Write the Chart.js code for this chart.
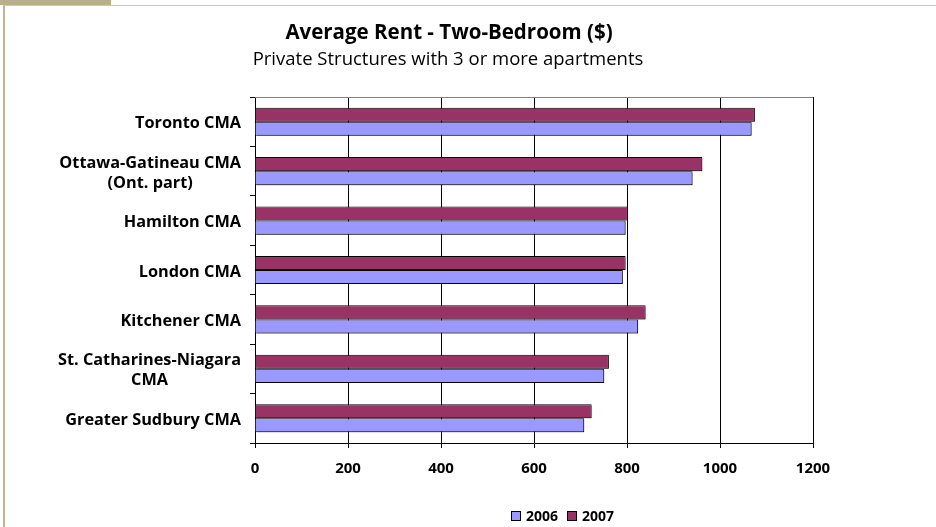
<!DOCTYPE html>
<html>
<head>
<meta charset="utf-8">
<script src="https://cdn.jsdelivr.net/npm/chart.js@4/dist/chart.umd.min.js"></script>
<style>
  body { margin: 0; background: #fff; }
  #wrap { position: relative; width: 936px; height: 527px; overflow: hidden; }
  #tab { position: absolute; left: 0; top: 0; width: 111px; height: 5px; background: #b8b089; }
  #frame { position: absolute; left: 3px; top: 5px; right: 0; bottom: 0; border-left: 2px solid #bdb692; border-top: 1px solid #cfc9ad; }
  canvas { position: absolute; left: 0; top: 0; }
</style>
</head>
<body>
<div id="wrap">
  <div id="tab"></div>
  <div id="frame"></div>
  <canvas id="chart" width="936" height="527"></canvas>
</div>
<script>
const chartTitle = "Average Rent - Two-Bedroom ($)";
const chartSubtitle = "Private Structures with 3 or more apartments";

const categories = [
  ["Toronto CMA"],
  ["Ottawa-Gatineau CMA", "(Ont. part)"],
  ["Hamilton CMA"],
  ["London CMA"],
  ["Kitchener CMA"],
  ["St. Catharines-Niagara", "CMA"],
  ["Greater Sudbury CMA"]
];

const seriesNames = ["2006", "2007"];
const rent2006 = [1068, 941, 797, 791, 824, 751, 708];
const rent2007 = [1075, 962, 802, 797, 840, 761, 724];
const xTicks = [0, 200, 400, 600, 800, 1000, 1200];

const colors = { "2006": "#9999ff", "2007": "#993366" };
const fontFamily = "'Open Sans', Lato, sans-serif";

// title, category labels and legend are drawn by hand to match the original placement
const decorPlugin = {
  id: "decor",
  beforeDatasetsDraw(chart) {
    const ctx = chart.ctx;
    const a = chart.chartArea;
    ctx.save();
    ctx.strokeStyle = "#808080";
    ctx.lineWidth = 1;
    ctx.beginPath();
    ctx.moveTo(a.left, a.top + 0.5);
    ctx.lineTo(a.right, a.top + 0.5);
    ctx.stroke();
    ctx.restore();

    ctx.save();
    ctx.shadowColor = "rgba(0,0,0,0.3)";
    ctx.shadowOffsetX = 1.5;
    ctx.shadowOffsetY = 1.5;
    ctx.shadowBlur = 0;
  },
  afterDatasetsDraw(chart) {
    chart.ctx.restore();
  },
  afterDraw(chart) {
    const ctx = chart.ctx;
    ctx.save();
    ctx.fillStyle = "#000";

    // title
    ctx.textAlign = "center";
    ctx.textBaseline = "middle";
    ctx.font = "bold 20.5px " + fontFamily;
    ctx.fillText(chartTitle, 449, 33);
    ctx.font = "18.5px " + fontFamily;
    ctx.fillText(chartSubtitle, 448, 60);

    // category labels
    const yScale = chart.scales.y;
    ctx.font = "bold 16.3px " + fontFamily;
    const rightEdge = 241;
    const lh = 20;
    categories.forEach((lines, i) => {
      const y = yScale.getPixelForTick(i) + 2;
      let widest = 0;
      lines.forEach(l => { widest = Math.max(widest, ctx.measureText(l).width); });
      const cx = rightEdge - widest / 2;
      lines.forEach((l, j) => {
        ctx.fillText(l, cx, y - (lines.length - 1) * lh / 2 + j * lh);
      });
    });

    // legend
    ctx.font = "bold 14px " + fontFamily;
    ctx.textAlign = "left";
    let x = 511;
    const ly = 516;
    seriesNames.forEach(name => {
      ctx.fillStyle = colors[name];
      ctx.fillRect(x, ly - 5, 9, 9);
      ctx.strokeStyle = "#000";
      ctx.lineWidth = 1;
      ctx.strokeRect(x + 0.5, ly - 4.5, 9, 9);
      ctx.fillStyle = "#000";
      ctx.fillText(name, x + 15, ly + 1);
      x += 15 + ctx.measureText(name).width + 9;
    });
    ctx.restore();
  }
};

const ctx = document.getElementById("chart").getContext("2d");
new Chart(ctx, {
  type: "bar",
  data: {
    labels: categories,
    datasets: [
      {
        label: "2007",
        data: rent2007,
        backgroundColor: colors["2007"],
        borderColor: "#000",
        borderWidth: 1,
        categoryPercentage: 0.57,
        barPercentage: 1
      },
      {
        label: "2006",
        data: rent2006,
        backgroundColor: colors["2006"],
        borderColor: "#000",
        borderWidth: 1,
        categoryPercentage: 0.57,
        barPercentage: 1
      }
    ]
  },
  options: {
    indexAxis: "y",
    responsive: false,
    animation: false,
    devicePixelRatio: 1,
    layout: {
      padding: { top: 97, left: 245, right: 123, bottom: 44 }
    },
    plugins: {
      legend: { display: false },
      title: { display: false },
      tooltip: { enabled: false }
    },
    scales: {
      x: {
        min: 0,
        max: 1200,
        afterBuildTicks(scale) {
          scale.ticks = xTicks.map(v => ({ value: v }));
        },
        afterFit(scale) {
          scale.height = 40;
          scale.paddingLeft = 0;
          scale.paddingRight = 0;
        },
        grid: {
          color: "#000",
          lineWidth: 1,
          drawTicks: true,
          tickLength: 5,
          tickColor: "#000"
        },
        border: { color: "#000", width: 1 },
        ticks: {
          color: "#000",
          padding: 12,
          maxRotation: 0,
          font: { family: fontFamily, size: 15, weight: "bold" },
          callback: v => String(v)
        }
      },
      y: {
        afterFit(scale) {
          scale.width = 10;
          scale.paddingTop = 0;
          scale.paddingBottom = 0;
        },
        grid: {
          drawOnChartArea: false,
          drawTicks: true,
          tickLength: 5,
          color: "#000"
        },
        border: { color: "#000", width: 1 },
        ticks: { display: false }
      }
    }
  },
  plugins: [decorPlugin]
});
</script>
</body>
</html>
